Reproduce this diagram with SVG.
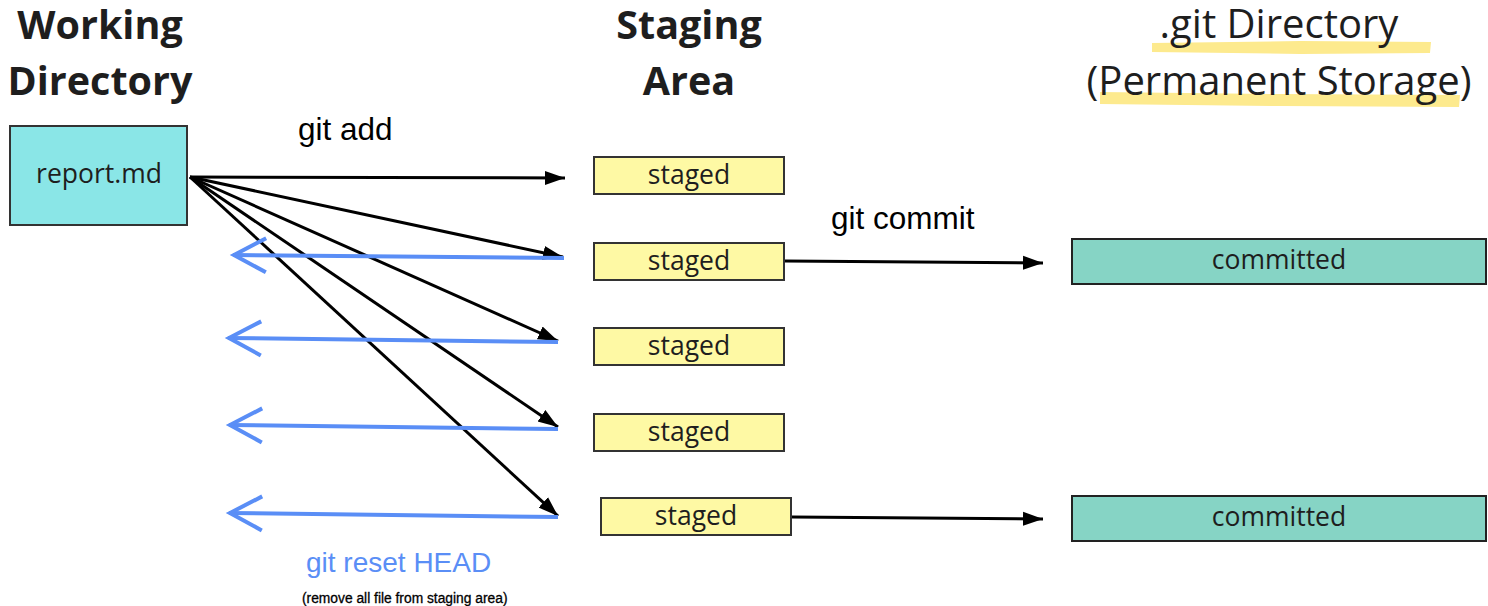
<svg xmlns="http://www.w3.org/2000/svg" width="1488" height="606" viewBox="0 0 1488 606">
<style>
.title{font-family:"Open Sans","Liberation Sans",sans-serif;font-weight:bold;font-size:39.5px;fill:#1e1e1e;text-anchor:middle}
.title2{font-family:"Open Sans","Liberation Sans",sans-serif;font-size:40px;fill:#1e1e1e;text-anchor:middle}
.lbl{font-family:"Open Sans","Liberation Sans",sans-serif;font-size:26.5px;fill:#1e1e1e;text-anchor:middle}
.cmd{font-family:"Liberation Sans",Arial,sans-serif;font-size:31.5px;fill:#000}
.wd{fill:#8ae6e7;stroke:#333;stroke-width:2}
.st{fill:#fef9a4;stroke:#333;stroke-width:2}
.cm{fill:#86d4c5;stroke:#222;stroke-width:2}
.blk{stroke:#000;stroke-width:3;fill:none;marker-end:url(#ah)}
.blu{stroke:#5a8ef6;stroke-width:4;fill:none;marker-end:url(#oh)}
.hl{fill:#fdea8e}
</style>
<defs>
<marker id="ah" markerUnits="userSpaceOnUse" markerWidth="22" markerHeight="16" refX="20" refY="8" orient="auto" viewBox="0 0 22 16">
<path d="M0,1 L20,8 L0,15 z" fill="#000"/>
</marker>
<marker id="oh" markerUnits="userSpaceOnUse" markerWidth="44" markerHeight="44" refX="0" refY="0" orient="auto" viewBox="-38 -22 44 44" overflow="visible">
<path d="M-33,-17 L-1,0 L-33,17" fill="none" stroke="#5a8ef6" stroke-width="4"/>
</marker>
</defs>
<rect width="1488" height="606" fill="#fff"/>

<g id="titles">
<text class="title" x="100" y="39">Working</text>
<text class="title" x="100" y="95">Directory</text>
<text class="title" x="689" y="39">Staging</text>
<text class="title" x="689" y="95">Area</text>
<path class="hl" d="M1152,43 L1300,41 L1431,42 L1430,53 L1300,54 L1152,52 z"/>
<path class="hl" d="M1100,92 L1280,94 L1460,95 L1459,107 L1280,106 L1100,104 z"/>
<text class="title2" x="1279" y="38">.git Directory</text>
<text class="title2" x="1279" y="95">(Permanent Storage)</text>
</g>

<g id="working-file">
<rect class="wd" x="10" y="126" width="177" height="99"/>
<text class="lbl" x="99" y="183">report.md</text>
</g>

<g id="staged-1"><rect class="st" x="594" y="157" width="190" height="37"/><text class="lbl" x="689" y="184">staged</text></g>
<g id="staged-2"><rect class="st" x="594" y="243" width="190" height="37"/><text class="lbl" x="689" y="270">staged</text></g>
<g id="staged-3"><rect class="st" x="594" y="328" width="190" height="37"/><text class="lbl" x="689" y="355">staged</text></g>
<g id="staged-4"><rect class="st" x="594" y="414" width="190" height="37"/><text class="lbl" x="689" y="441">staged</text></g>
<g id="staged-5"><rect class="st" x="601" y="498" width="190" height="37"/><text class="lbl" x="696" y="525">staged</text></g>

<g id="committed-1"><rect class="cm" x="1072" y="239" width="414" height="45"/><text class="lbl" x="1279" y="269">committed</text></g>
<g id="committed-2"><rect class="cm" x="1072" y="496" width="414" height="45"/><text class="lbl" x="1279" y="526">committed</text></g>

<g id="connectors">
<line class="blk" x1="190" y1="177" x2="565" y2="178"/>
<line class="blk" x1="190" y1="177" x2="563" y2="257"/>
<line class="blk" x1="190" y1="177" x2="558" y2="341"/>
<line class="blk" x1="190" y1="177" x2="558" y2="427"/>
<line class="blk" x1="190" y1="177" x2="558" y2="516"/>
<line class="blk" x1="785" y1="261" x2="1043" y2="263"/>
<line class="blk" x1="792" y1="517" x2="1043" y2="519"/>
<line class="blu" x1="564" y1="258" x2="233" y2="255"/>
<line class="blu" x1="558" y1="342" x2="228" y2="338"/>
<line class="blu" x1="558" y1="429" x2="229" y2="425"/>
<line class="blu" x1="558" y1="517" x2="229" y2="513"/>
</g>

<g id="labels">
<text class="cmd" x="298" y="140">git add</text>
<text class="cmd" x="831" y="229">git commit</text>
<text class="cmd" x="306" y="572" style="fill:#5a8ef6;font-size:28px">git reset HEAD</text>
<text x="302" y="603" style="font-family:'Liberation Sans',Arial,sans-serif;font-size:13.8px;fill:#000;stroke:#000;stroke-width:0.3">(remove all file from staging area)</text>
</g>
</svg>
